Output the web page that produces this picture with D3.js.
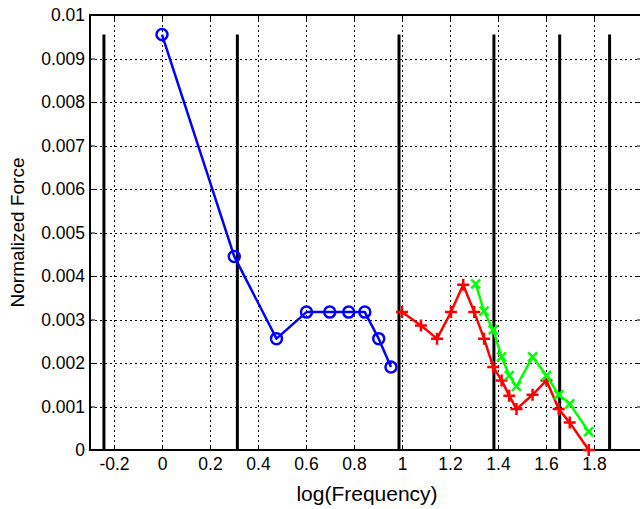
<!DOCTYPE html>
<html>
<head>
<meta charset="utf-8">
<script src="https://cdn.jsdelivr.net/npm/d3@7"></script>
<style>
  body { margin: 0; background: #fff; }
  text { font-family: "Liberation Sans", Arial, Helvetica, sans-serif; fill: #000; }
</style>
</head>
<body>
<svg width="640" height="509"></svg>
<script>
// log(Frequency) positions and normalized force
const blueX = [0, 0.301, 0.477, 0.602, 0.699, 0.778, 0.845, 0.903, 0.954];
const blueY = [0.00955, 0.00445, 0.00256, 0.00317, 0.00317, 0.00317, 0.00317, 0.00256, 0.00191];

const redX = [1.0, 1.079, 1.146, 1.204, 1.255, 1.301, 1.342, 1.380, 1.415, 1.447, 1.477, 1.544, 1.602, 1.653, 1.699, 1.778];
const redY = [0.00317, 0.00286, 0.00256, 0.00317, 0.0038, 0.00317, 0.00256, 0.00191, 0.0016, 0.00125, 0.00094, 0.00127, 0.0016, 0.00094, 0.00063, 0.0];

const greenX = [1.307, 1.342, 1.380, 1.415, 1.447, 1.477, 1.544, 1.602, 1.653, 1.699, 1.778];
const greenY = [0.00382, 0.00319, 0.00276, 0.00214, 0.00171, 0.00146, 0.00214, 0.00171, 0.00127, 0.00106, 0.00042];

// black vertical markers
const stemX = [-0.242, 0.314, 0.9875, 1.383, 1.657, 1.865];
const stemTop = 0.00955;

const xTicks = [-0.2, 0, 0.2, 0.4, 0.6, 0.8, 1, 1.2, 1.4, 1.6, 1.8];
const yTicks = [0, 0.001, 0.002, 0.003, 0.004, 0.005, 0.006, 0.007, 0.008, 0.009, 0.01];

const mLeft = 90, mTop = 15, mRight = 642, mBottom = 450;

const svg = d3.select("svg");

const x = d3.scaleLinear().domain([-0.3, 2.0]).range([mLeft, mRight]);
const y = d3.scaleLinear().domain([0, 0.01]).range([mBottom, mTop]);

// grid (dotted)
const grid = svg.append("g")
    .attr("stroke", "#000")
    .attr("stroke-width", 1)
    .attr("stroke-dasharray", "2,3");

grid.selectAll(".vg")
    .data(xTicks)
    .enter().append("line")
    .attr("x1", d => Math.round(x(d)) + 0.5)
    .attr("x2", d => Math.round(x(d)) + 0.5)
    .attr("y1", mTop)
    .attr("y2", mBottom);

grid.selectAll(".hg")
    .data(yTicks.slice(1, -1))
    .enter().append("line")
    .attr("x1", mLeft)
    .attr("x2", mRight)
    .attr("y1", d => Math.round(y(d)) + 0.5)
    .attr("y2", d => Math.round(y(d)) + 0.5);

// axes (ticks inward, MATLAB style)
const fmt = d => d === 0 ? "0" : String(+d.toFixed(3));

const xAxis = svg.append("g")
    .attr("transform", `translate(0,${mBottom})`)
    .call(d3.axisBottom(x).tickValues(xTicks).tickSize(-5).tickPadding(8).tickFormat(fmt));
const xTopAxis = svg.append("g")
    .attr("transform", `translate(0,${mTop})`)
    .call(d3.axisTop(x).tickValues(xTicks).tickSize(-5).tickFormat(""));
const yAxis = svg.append("g")
    .attr("transform", `translate(${mLeft},0)`)
    .call(d3.axisLeft(y).tickValues(yTicks).tickSize(-5).tickPadding(5).tickFormat(fmt));
const yRightAxis = svg.append("g")
    .attr("transform", `translate(${mRight},0)`)
    .call(d3.axisRight(y).tickValues(yTicks).tickSize(-5).tickFormat(""));

[xAxis, xTopAxis, yAxis, yRightAxis].forEach(g => {
    g.select(".domain").remove();
    g.selectAll(".tick line").attr("stroke", "#000").attr("stroke-width", 1);
    g.selectAll("text").attr("font-size", 17.5).style("font-family", "Liberation Sans, Arial, sans-serif");
});

// box
svg.append("rect")
    .attr("x", mLeft)
    .attr("y", mTop)
    .attr("width", mRight - mLeft)
    .attr("height", mBottom - mTop)
    .attr("fill", "none")
    .attr("stroke", "#000")
    .attr("stroke-width", 2);

// black vertical lines
svg.selectAll(".stem")
    .data(stemX)
    .enter().append("line")
    .attr("x1", d => x(d))
    .attr("x2", d => x(d))
    .attr("y1", y(0))
    .attr("y2", y(stemTop))
    .attr("stroke", "#000")
    .attr("stroke-width", 3);

function series(xs, ys, color) {
    const pts = xs.map((v, i) => [v, ys[i]]);
    svg.append("path")
        .datum(pts)
        .attr("fill", "none")
        .attr("stroke", color)
        .attr("stroke-width", 2.5)
        .attr("stroke-linejoin", "round")
        .attr("d", d3.line().x(d => x(d[0])).y(d => y(d[1])));
    return svg.append("g").selectAll("g")
        .data(pts)
        .enter().append("g")
        .attr("transform", d => `translate(${x(d[0])},${y(d[1])})`);
}

series(blueX, blueY, "#0000ff")
    .append("circle")
    .attr("r", 5.5)
    .attr("fill", "none")
    .attr("stroke", "#0000ff")
    .attr("stroke-width", 2.5);

series(redX, redY, "#ff0000")
    .append("path")
    .attr("d", "M-6,0H6M0,-6V6")
    .attr("stroke", "#ff0000")
    .attr("stroke-width", 2.5);

series(greenX, greenY, "#00ff00")
    .append("path")
    .attr("d", "M-4.5,-4.5L4.5,4.5M-4.5,4.5L4.5,-4.5")
    .attr("stroke", "#00ff00")
    .attr("stroke-width", 2.5);

// labels
svg.append("text")
    .attr("x", 367)
    .attr("y", 501)
    .attr("text-anchor", "middle")
    .attr("font-size", 21)
    .text("log(Frequency)");

svg.append("text")
    .attr("transform", `translate(24,${(mTop + mBottom) / 2}) rotate(-90)`)
    .attr("text-anchor", "middle")
    .attr("font-size", 19)
    .text("Normalized Force");
</script>
</body>
</html>
